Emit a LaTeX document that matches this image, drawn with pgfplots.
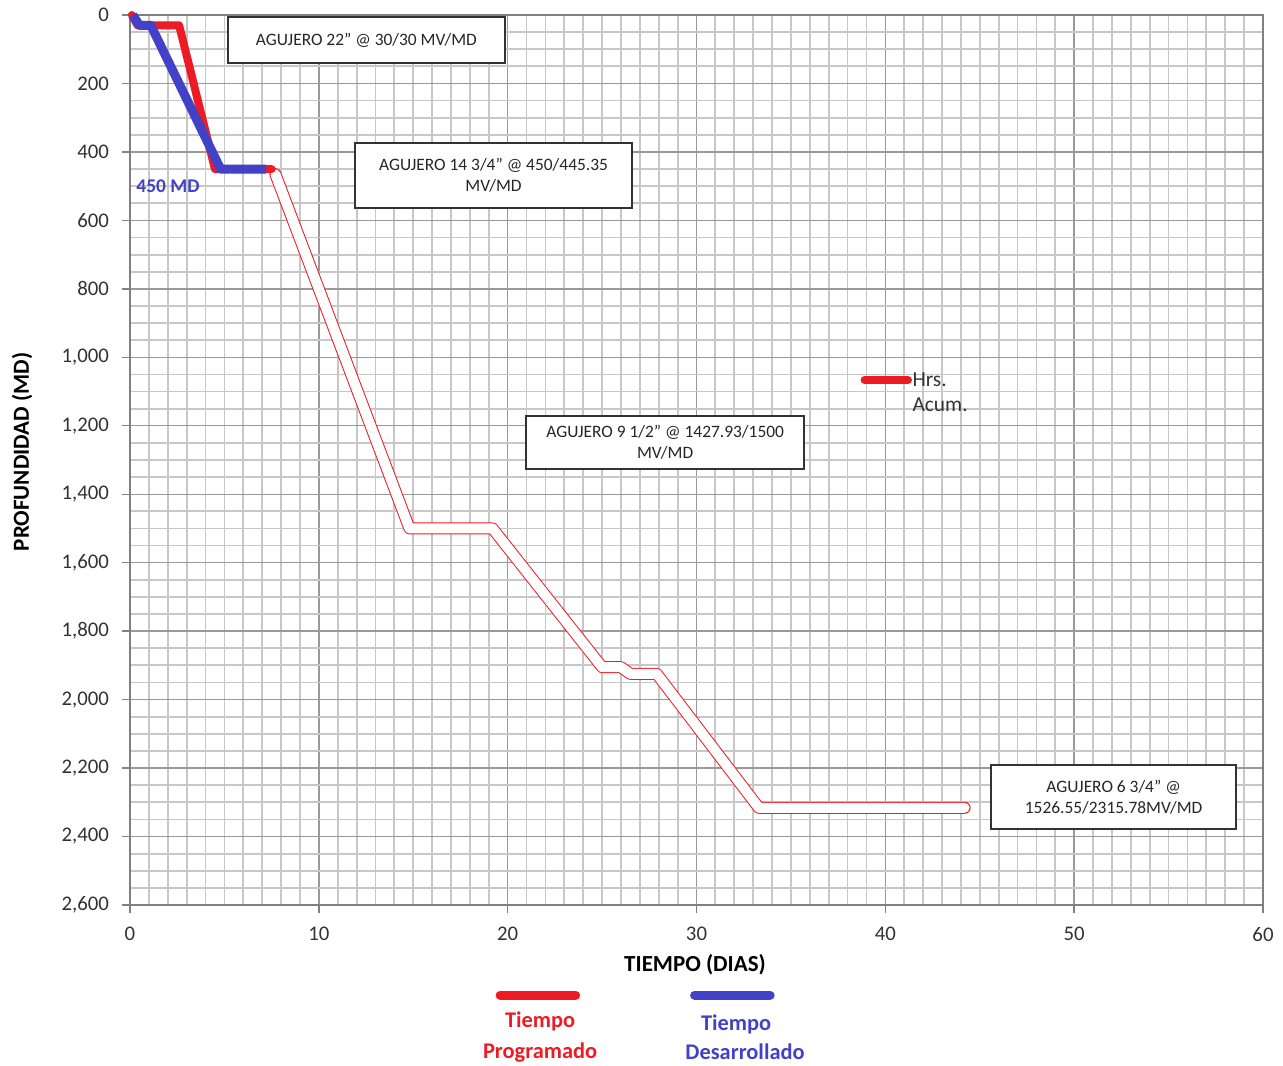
\documentclass[border=0pt]{standalone}
\usepackage{fontspec}
\setmainfont{Carlito}
\usepackage{pgfplots}
\pgfplotsset{compat=1.18}
\definecolor{progred}{RGB}{237,28,36}
\definecolor{desblue}{RGB}{66,66,200}
\definecolor{txtgray}{RGB}{50,50,50}
\begin{document}
\begin{tikzpicture}
\begin{axis}[
  name=ax,
  scale only axis,
  width=566.5pt, height=445pt,
  xmin=0, xmax=60, ymin=0, ymax=2600,
  y dir=reverse,
  clip=false,
  xtick={0,10,...,60},
  ytick={0,200,...,2600},
  xtick pos=bottom, ytick pos=left,
  minor x tick num=9,
  minor y tick num=3,
  grid=both,
  minor grid style={color=black!22, line width=0.9pt},
  major grid style={color=black!40, line width=0.7pt},
  axis line style={black!50, line width=0.7pt},
  tick style={black!50, line width=0.7pt},
  major tick length=4pt,
  minor tick length=0pt,
  tick align=outside,
  /pgf/number format/assume math mode=true,
  /pgf/number format/1000 sep={,},
  ticklabel style={font=\fontsize{10.4}{12}\selectfont, text=txtgray},
  yticklabel style={xshift=-3pt},
  xticklabel style={yshift=-3.5pt},
  xlabel={TIEMPO (DIAS)},
  ylabel={PROFUNDIDAD (MD)},
  xlabel style={at={(axis description cs:0.4987,0)}, anchor=center, yshift=-30pt, font=\fontsize{11.5}{13}\selectfont\bfseries},
  ylabel style={at={(axis description cs:0,0.509)}, anchor=center, yshift=54pt, font=\fontsize{11.5}{13}\selectfont\bfseries},
]
% outlined continuation of the programmed line
\addplot[progred, line width=6pt, line join=round, line cap=round] coordinates {
 (7.7,465) (14.8,1500) (19.2,1500) (25.0,1905) (26.0,1905) (26.5,1925) (27.9,1925) (33.3,2316) (44.2,2316)};
\addplot[white, line width=5pt, line join=round, line cap=round] coordinates {
 (7.7,465) (14.8,1500) (19.2,1500) (25.0,1905) (26.0,1905) (26.5,1925) (27.9,1925) (33.3,2316) (44.2,2316)};
% Tiempo Programado
\addplot[progred, line width=4pt, line join=round, line cap=round] coordinates {
 (0.1,0) (0.4,30) (2.6,30) (4.5,450) (7.5,450)};
% Tiempo Desarrollado
\addplot[desblue, line width=4.5pt, line join=round] coordinates {
 (0.15,0) (0.5,30) (1.1,30) (4.8,450) (7.2,450)};

% annotation boxes
\tikzset{abox/.style={draw=black!80, line width=0.7pt, fill=white, align=center, inner sep=0pt, text=black!85, font=\fontsize{8.7}{10.5}\selectfont}}
\node[abox, minimum width=138.5pt, minimum height=23pt] at (axis cs:12.52,73) {AGUJERO 22” @ 30/30 MV/MD};
\node[abox, minimum width=138.5pt, minimum height=32.5pt] at (axis cs:19.25,469) {AGUJERO 14 3/4” @ 450/445.35\\MV/MD};
\node[abox, minimum width=139pt, minimum height=26.5pt] at (axis cs:28.34,1249) {AGUJERO 9 1/2” @ 1427.93/1500\\MV/MD};
\node[abox, minimum width=122.5pt, minimum height=32pt] at (axis cs:52.09,2285) {AGUJERO 6 3/4” @\\1526.55/2315.78MV/MD};

\node[text=desblue, font=\fontsize{9.7}{11}\selectfont\bfseries] at (axis cs:2.01,500) {450 MD};

% Hrs. Acum. legend
\draw[progred, line width=4pt, line cap=round] (axis cs:38.9,1066) -- (axis cs:41.2,1066);
\node[anchor=west, inner sep=0pt, text=txtgray, font=\fontsize{10.7}{12}\selectfont] at (axis cs:41.42,1066) {Hrs.};
\node[anchor=west, inner sep=0pt, text=txtgray, font=\fontsize{10.7}{12}\selectfont] at (axis cs:41.42,1139) {Acum.};

% bottom legend
\draw[progred, line width=4.5pt, line cap=round] (axis cs:19.6,2863) -- (axis cs:23.6,2863);
\draw[desblue, line width=4.5pt, line cap=round] (axis cs:29.9,2863) -- (axis cs:33.9,2863);
\tikzset{lgt/.style={inner sep=0pt, font=\fontsize{11.2}{13}\selectfont\bfseries}}
\node[lgt, text=progred] at (axis cs:21.72,2939) {Tiempo};
\node[lgt, text=progred] at (axis cs:21.72,3030) {Programado};
\node[lgt, text=desblue] at (axis cs:32.1,2948) {Tiempo};
\node[lgt, text=desblue] at (axis cs:32.57,3030) {Desarrollado};
\end{axis}
\pgfresetboundingbox
\path ([xshift=-65pt,yshift=-80pt]ax.south west) rectangle ([xshift=10pt,yshift=7.5pt]ax.north east);
\end{tikzpicture}
\end{document}
